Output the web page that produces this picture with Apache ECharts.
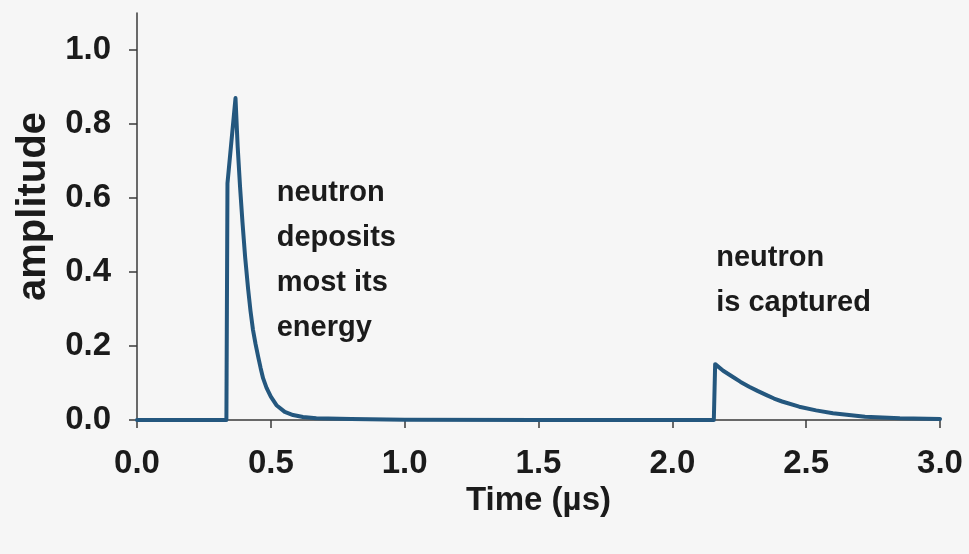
<!DOCTYPE html>
<html>
<head>
<meta charset="utf-8">
<script src="https://cdn.jsdelivr.net/npm/echarts@6/dist/echarts.min.js"></script>
<style>
html,body{margin:0;padding:0;background:#f6f6f6;}
#chart{width:969px;height:554px;}
</style>
</head>
<body>
<div id="chart"></div>
<script>
// Time (µs) and amplitude
const timeUs = [0.0, 0.334, 0.338, 0.368, 0.376, 0.385, 0.394, 0.404, 0.415, 0.424, 0.433, 0.443, 0.453, 0.462, 0.471, 0.484, 0.5, 0.521, 0.552, 0.583, 0.62, 0.67, 0.8, 1.0, 1.5, 2.155, 2.16, 2.19, 2.225, 2.255, 2.287, 2.32, 2.35, 2.38, 2.41, 2.474, 2.537, 2.6, 2.72, 2.85, 3.0];
const amplitude = [0.0, 0.0, 0.64, 0.87, 0.74, 0.63, 0.535, 0.44, 0.355, 0.295, 0.245, 0.205, 0.17, 0.14, 0.113, 0.087, 0.063, 0.04, 0.022, 0.0135, 0.008, 0.005, 0.003, 0.001, 0.0, 0.0, 0.151, 0.133, 0.117, 0.103, 0.09, 0.078, 0.068, 0.058, 0.05, 0.036, 0.026, 0.018, 0.009, 0.005, 0.003];
const yTicks = [0.0, 0.2, 0.4, 0.6, 0.8, 1.0];
const xTicks = [0.0, 0.5, 1.0, 1.5, 2.0, 2.5, 3.0];
const xAxisName = 'Time (µs)';
const yAxisName = 'amplitude';
// annotations: [time, amplitude of top line, text]
const notes = [
  [0.522, 0.675, 'neutron\ndeposits\nmost its\nenergy'],
  [2.164, 0.50, 'neutron\nis captured']
];

const chart = echarts.init(document.getElementById('chart'), null, {renderer: 'canvas'});
const txt = '#1b1b1b';
const axisCol = '#3a3a3a';
const option = {
  backgroundColor: '#f6f6f6',
  animation: false,
  grid: {left: 137, right: 29, top: 13, bottom: 134, containLabel: false},
  xAxis: {
    type: 'value', min: 0, max: 3, interval: 0.5,
    name: xAxisName, nameLocation: 'middle', nameGap: 62,
    nameTextStyle: {fontFamily: 'Liberation Sans', fontWeight: 'bold', fontSize: 33, color: txt},
    axisLine: {show: true, onZero: false, lineStyle: {color: axisCol, width: 1.5}},
    axisTick: {show: true, inside: false, length: 8, lineStyle: {color: axisCol, width: 1.5}},
    axisLabel: {margin: 27, fontFamily: 'Liberation Sans', fontWeight: 'bold', fontSize: 33, color: txt,
      formatter: v => v.toFixed(1)},
    splitLine: {show: false}
  },
  yAxis: {
    type: 'value', min: 0, max: 1.1,
    name: yAxisName, nameLocation: 'middle', nameGap: 82, nameRotate: 90,
    nameTextStyle: {fontFamily: 'Liberation Sans', fontWeight: 'bold', fontSize: 40, color: txt, padding: [0, 0, 0, 20]},
    axisLine: {show: true, onZero: false, lineStyle: {color: axisCol, width: 1.5}},
    axisTick: {show: true, inside: false, length: 8, customValues: yTicks, lineStyle: {color: axisCol, width: 1.5}},
    axisLabel: {margin: 26, fontFamily: 'Liberation Sans', fontWeight: 'bold', fontSize: 33, color: txt,
      customValues: yTicks, formatter: v => v.toFixed(1)},
    splitLine: {show: false}
  },
  series: [{
    type: 'line',
    data: timeUs.map((t, i) => [t, amplitude[i]]),
    showSymbol: false, symbol: 'none',
    lineStyle: {color: '#24577e', width: 4, join: 'round', cap: 'round'},
    smooth: false,
    z: 5
  }]
};
chart.setOption(option);

const graphics = notes.map(n => {
  const p = chart.convertToPixel({gridIndex: 0}, [n[0], n[1]]);
  return {
    type: 'text', x: p[0], y: p[1],
    style: {text: n[2], font: 'bold 29px "Liberation Sans"', fill: txt, lineHeight: 45, textVerticalAlign: 'top'}
  };
});
chart.setOption({graphic: graphics});
</script>
</body>
</html>
